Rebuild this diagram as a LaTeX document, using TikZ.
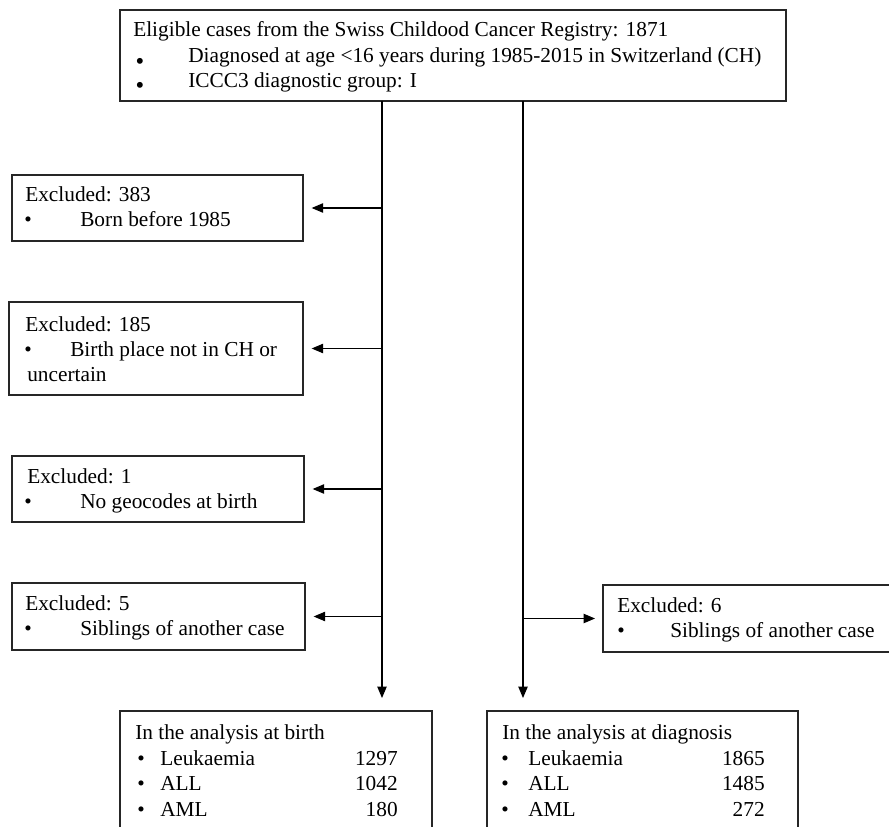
\documentclass[tikz,border=0pt]{standalone}
\usepackage{fontspec}
\setmainfont{Liberation Serif}
\usetikzlibrary{arrows.meta}
\begin{document}
\begin{tikzpicture}[x=0.75pt,y=-0.75pt,
  box/.style={draw=black!85,line width=0.9pt,anchor=north west,inner sep=0pt,outer sep=0pt},
  txt/.style={anchor=base west,inner sep=0pt,font=\fontsize{16}{19}\selectfont},
  num/.style={anchor=base east,inner sep=0pt,font=\fontsize{16}{19}\selectfont},
  bul/.style={anchor=base,inner sep=0pt,font=\fontsize{16}{19}\selectfont},
  bigbul/.style={anchor=center,inner sep=0pt,font=\fontsize{18.5}{19}\selectfont},
  arr/.style={line width=0.8pt,-{Triangle[length=8.5pt,width=7pt]}},
  ln/.style={line width=0.8pt}]
\useasboundingbox (0,0) rectangle (889,827);
\clip (0,0) rectangle (889,827);
% boxes
\node[box,minimum width=499.5pt,minimum height=68.25pt] (top) at (120,10) {};
\node[box,minimum width=218.25pt,minimum height=49.5pt] (b1) at (12,175) {};
\node[box,minimum width=220.5pt,minimum height=69.75pt] (b2) at (9,302) {};
\node[box,minimum width=219pt,minimum height=49.5pt] (b3) at (12,456) {};
\node[box,minimum width=219.75pt,minimum height=50.25pt] (b4) at (12,583) {};
\node[box,minimum width=219pt,minimum height=50.25pt] (b5) at (603,585) {};
\node[box,minimum width=234pt,minimum height=105pt] (bl) at (120,711) {};
\node[box,minimum width=233.25pt,minimum height=105pt] (br) at (487,711) {};
% top text
\node[txt] (t1) at (133,37) {Eligible cases from the Swiss Childood Cancer Registry: 1871};
\node[bigbul] (t2b) at (140,64) {•};
\node[txt] (t2) at (188,63) {Diagnosed at age <16 years during 1985-2015 in Switzerland (CH)};
\node[bigbul] (t3b) at (140,88) {•};
\node[txt] (t3) at (188,88) {ICCC3 diagnostic group: I};
% excluded 1
\node[txt] (e1a) at (25,202) {Excluded: 383};
\node[bul] (e1b) at (28,227) {•};
\node[txt] (e1c) at (80,227) {Born before 1985};
% excluded 2
\node[txt] (e2a) at (25,331) {Excluded: 185};
\node[bul] (e2b) at (28,357) {•};
\node[txt] (e2c) at (70,357) {Birth place not in CH or};
\node[txt] (e2d) at (27,382) {uncertain};
% excluded 3
\node[txt] (e3a) at (27,483) {Excluded: 1};
\node[bul] (e3b) at (28,508) {•};
\node[txt] (e3c) at (80,508) {No geocodes at birth};
% excluded 4
\node[txt] (e4a) at (25,610) {Excluded: 5};
\node[bul] (e4b) at (28,635) {•};
\node[txt] (e4c) at (80,635) {Siblings of another case};
% excluded 5 (right)
\node[txt] (e5a) at (617,612) {Excluded: 6};
\node[bul] (e5b) at (621,637) {•};
\node[txt] (e5c) at (670,637) {Siblings of another case};
% bottom left
\node[txt] (l0) at (135,739) {In the analysis at birth};
\node[bul] (l1b) at (141,765) {•};
\node[txt] (l1) at (160,765) {Leukaemia};
\node[num] (l1n) at (398,765) {1297};
\node[bul] (l2b) at (141,790) {•};
\node[txt] (l2) at (160,790) {ALL};
\node[num] (l2n) at (398,790) {1042};
\node[bul] (l3b) at (141,816) {•};
\node[txt] (l3) at (160,816) {AML};
\node[num] (l3n) at (398,816) {180};
% bottom right
\node[txt] (r0) at (502,739) {In the analysis at diagnosis};
\node[bul] (r1b) at (505,765) {•};
\node[txt] (r1) at (528,765) {Leukaemia};
\node[num] (r1n) at (765,765) {1865};
\node[bul] (r2b) at (505,790) {•};
\node[txt] (r2) at (528,790) {ALL};
\node[num] (r2n) at (765,790) {1485};
\node[bul] (r3b) at (505,816) {•};
\node[txt] (r3) at (528,816) {AML};
\node[num] (r3n) at (765,816) {272};
% connectors
\coordinate (L) at (382,0);
\coordinate (R) at (523,0);
\draw[arr,shorten >=9.75pt] (top.south -| L) -- (bl.north -| L);
\draw[arr,shorten >=9.75pt] (top.south -| R) -- (br.north -| R);
\draw[arr,shorten >=6.5pt] (b1.east -| L) -- (b1.east);
\draw[arr,shorten >=6.5pt] (b2.east -| L) -- (b2.east);
\draw[arr,shorten >=6.5pt] (b3.east -| L) -- (b3.east);
\draw[arr,shorten >=6.5pt] (b4.east -| L) -- (b4.east);
\draw[arr,shorten >=6pt] (b5.west -| R) -- (b5.west);
\end{tikzpicture}
\end{document}
